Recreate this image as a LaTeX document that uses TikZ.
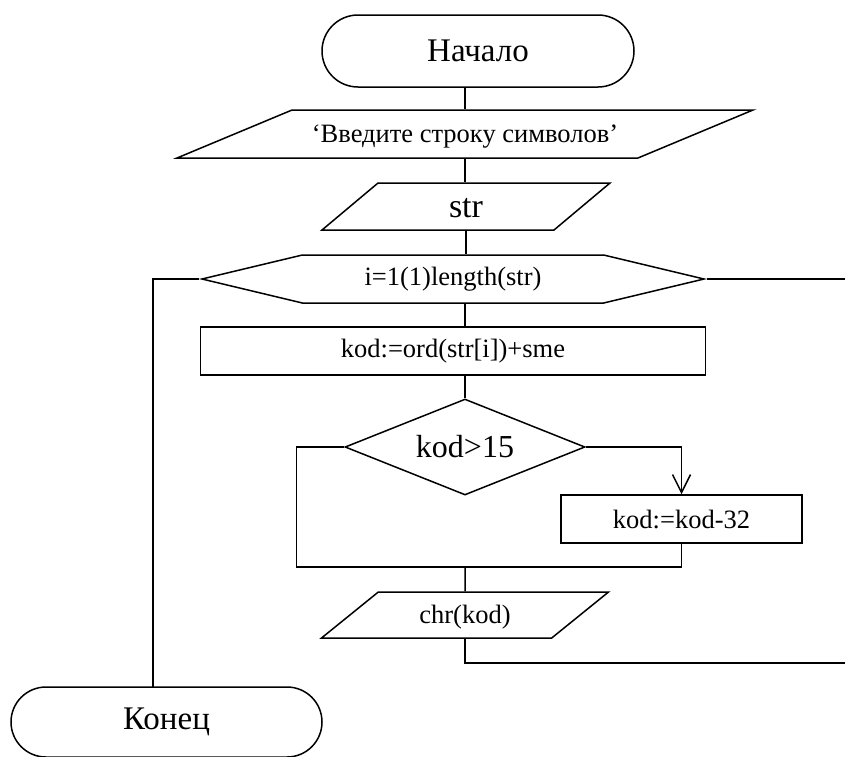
\documentclass[tikz,border=0pt]{standalone}
\usepackage{fontspec}
\setmainfont{Liberation Serif}
\usetikzlibrary{shapes.geometric,shapes.misc,shapes.symbols,arrows.meta}
\tikzset{
    block/.style = {draw, line width = 1.5pt, inner sep = 0pt, font = \fontsize{26.5}{30}\selectfont},
    termbox/.style = {block, rounded rectangle, minimum width = 312pt, minimum height = 72pt, font = \fontsize{33}{38}\selectfont},
    iobox/.style = {block, trapezium, trapezium stretches body, text height = 32.8pt, text depth = 15.2pt},
    loopbox/.style = {block, signal, signal to = west and east, signal pointer angle = 26.9, minimum width = 502pt, minimum height = 48pt},
    procbox/.style = {block, rectangle, minimum height = 48pt},
    condbox/.style = {block, diamond, aspect = 2.5, minimum width = 240pt, minimum height = 96pt, font = \fontsize{32}{36}\selectfont}
}
\begin{document}
\begin{tikzpicture}[x = 1pt, y = -1pt, line width = 1.5pt]
        \useasboundingbox (0,0) rectangle (845,756);
        \node[termbox] (start) at (478,51) {Начало};
        \node[iobox, trapezium left angle = 22.65, trapezium right angle = 157.35, minimum width = 576pt] (in1) at (465,134) {‘Введите строку символов’};
        \node[iobox, trapezium left angle = 40, trapezium right angle = 140, minimum width = 288pt, text height = 34.5pt, text depth = 12.5pt, font = \fontsize{34}{38}\selectfont] (in2) at (466,206.5) {str};
        \node[loopbox] (loop) at (453,279) {i=1(1)length(str)};
        \node[procbox, minimum width = 505pt] (body) at (453,351) {kod:=ord(str[i])+sme};
        \node[condbox] (test) at (465,447) {kod>15};
        \node[procbox, minimum width = 241pt] (shift) at (681.5,519) {kod:=kod-32};
        \node[iobox, trapezium left angle = 39, trapezium right angle = 141, minimum width = 287pt, text height = 31.8pt, text depth = 14.2pt] (out) at (465,615) {chr(kod)};
        \node[termbox, minimum width = 311pt, minimum height = 70pt] (stop) at (166.5,722) {Конец};
        \coordinate (join) at (465,567);
        \coordinate (back) at (153,687);
        \coordinate (exit) at (845,279);
        \coordinate (next) at (845,663);
        \draw (in1.north |- start.south) -- (in1.north);
        \draw (in1.south) -- (in1.south |- in2.north);
        \draw (in2.south) -- (in2.south |- loop.north);
        \draw (test.north |- loop.south) -- (test.north |- body.north);
        \draw (test.north |- body.south) -- (test.north);
        \draw (test.west) -- ++(-48,0) |- (join -| shift.south);
        \draw[-{Straight Barb[length = 18pt, width = 18pt]}] (test.east) -| (shift.north);
        \draw (shift.south) -- (shift.south |- join);
        \draw (join) -- (out.north);
        \draw (out.south) |- (next);
        \draw (loop.east) -- (exit);
        \draw (loop.west) -| (back);
    \end{tikzpicture}
\end{document}
